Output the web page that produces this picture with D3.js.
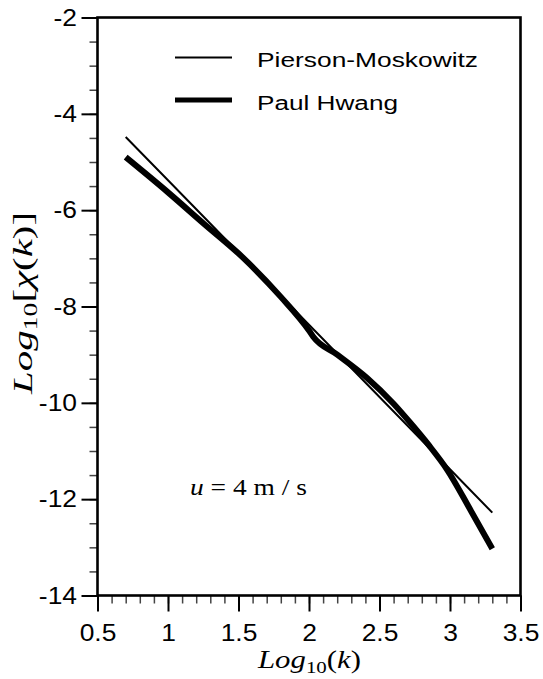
<!DOCTYPE html>
<html lang="en">
<head>
<meta charset="utf-8">
<title>Log spectrum, u = 4 m/s</title>
<script src="https://d3js.org/d3.v7.min.js"></script>
<style>
  body { margin: 0; background: #fff; }
  .tick text { font-family: "Liberation Sans", Arial, sans-serif; font-size: 24px; fill: #000; }
</style>
</head>
<body>
<script>
// values
var pmLogK  = [0.70, 1.00, 1.50, 2.00, 2.50, 3.00, 3.30];
var pmVal   = [-4.48, -5.38, -6.88, -8.38, -9.88, -11.38, -12.28];

var hwLogK  = [0.70, 1.00, 1.25, 1.53, 1.80, 2.00, 2.03, 2.20, 2.41, 2.60, 2.72, 2.85, 2.98, 3.15, 3.30];
var hwVal   = [-4.90, -5.63, -6.27, -6.98, -7.80, -8.50, -8.63, -9.00, -9.48, -10.02, -10.42, -10.88, -11.39, -12.25, -13.03];

var xTicks = [0.5, 1, 1.5, 2, 2.5, 3, 3.5];
var yTicks = [-14, -12, -10, -8, -6, -4, -2];
var seriesNames = ["Pierson-Moskowitz", "Paul Hwang"];

var W = 543, H = 679;
var pLeft = 97.5, pTop = 17.5, pRight = 520.5, pBottom = 595.5;
var stretch = 1.1;

var svg = d3.select("body").append("svg")
    .attr("width", W).attr("height", H);

var x = d3.scaleLinear().domain([0.5, 3.5]).range([pLeft, pRight]);
var y = d3.scaleLinear().domain([-14, -2]).range([pBottom, pTop]);

// minor ticks
var xMinor = d3.range(5, 36).map(function(d){ return d / 10; });
var yMinor = d3.range(-28, -3).map(function(d){ return d / 2; });

svg.append("g")
    .attr("transform", "translate(0," + pBottom + ")")
    .call(d3.axisBottom(x).tickValues(xMinor).tickSize(8).tickFormat(""))
    .call(function(g){ g.select(".domain").remove(); g.selectAll("line").attr("stroke", "#444").attr("stroke-width", 1.5); });

svg.append("g")
    .attr("transform", "translate(" + pLeft + ",0)")
    .call(d3.axisLeft(y).tickValues(yMinor).tickSize(8).tickFormat(""))
    .call(function(g){ g.select(".domain").remove(); g.selectAll("line").attr("stroke", "#444").attr("stroke-width", 1.5); });

// major ticks + labels (plain hyphen for minus, as in the figure)
var xAxis = svg.append("g")
    .attr("transform", "translate(0," + pBottom + ")")
    .call(d3.axisBottom(x).tickValues(xTicks).tickSize(16).tickPadding(12).tickFormat(String));
xAxis.select(".domain").remove();
xAxis.selectAll("line").attr("stroke", "#000").attr("stroke-width", 2);

var yAxis = svg.append("g")
    .attr("transform", "translate(" + pLeft + ",0)")
    .call(d3.axisLeft(y).tickValues(yTicks).tickSize(16).tickPadding(4.5).tickFormat(String));
yAxis.select(".domain").remove();
yAxis.selectAll("line").attr("stroke", "#000").attr("stroke-width", 2);

svg.selectAll(".tick text").each(function(){
  var t = this.getComputedTextLength();
  if (t > 0) {
    this.setAttribute("textLength", t * stretch);
    this.setAttribute("lengthAdjust", "spacingAndGlyphs");
  }
});

// frame
svg.append("rect")
    .attr("x", pLeft).attr("y", pTop)
    .attr("width", pRight - pLeft).attr("height", pBottom - pTop)
    .attr("fill", "none").attr("stroke", "#000").attr("stroke-width", 2.6);

var line = d3.line()
    .x(function(d){ return x(d[0]); })
    .y(function(d){ return y(d[1]); });

svg.append("path")
    .datum(d3.zip(hwLogK, hwVal))
    .attr("d", line.curve(d3.curveMonotoneX))
    .attr("fill", "none").attr("stroke", "#000")
    .attr("stroke-width", 6).attr("stroke-linejoin", "round").attr("stroke-linecap", "butt");

svg.append("path")
    .datum(d3.zip(pmLogK, pmVal))
    .attr("d", line.curve(d3.curveLinear))
    .attr("fill", "none").attr("stroke", "#000")
    .attr("stroke-width", 2);

// legend
var legend = svg.append("g");
var legY = [57.5, 100];
var legTextY = [67, 109.5];
var legLen = [221, 141];
var legW = [2, 5];
seriesNames.forEach(function(name, i){
  legend.append("line")
      .attr("x1", 175).attr("x2", 232)
      .attr("y1", legY[i]).attr("y2", legY[i])
      .attr("stroke", "#000").attr("stroke-width", legW[i]);
  legend.append("text")
      .attr("x", 257).attr("y", legTextY[i])
      .attr("font-family", "Liberation Sans, Arial, sans-serif")
      .attr("font-size", 20)
      .attr("textLength", legLen[i])
      .attr("lengthAdjust", "spacingAndGlyphs")
      .text(name);
});

// annotation u = 4 m/s
var note = svg.append("text")
    .attr("x", 190).attr("y", 495)
    .attr("font-family", "Liberation Serif, Times New Roman, serif")
    .attr("font-size", 24)
    .attr("textLength", 117)
    .attr("lengthAdjust", "spacingAndGlyphs");
note.append("tspan").attr("font-style", "italic").text("u");
note.append("tspan").text(" = 4 m / s");

// axis titles
function titleText(g, inner) {
  g.append("tspan").attr("font-style", "italic").text("Log");
  g.append("tspan").attr("font-size", "0.68em").attr("dy", "0.28em").text("10");
  g.append("tspan").attr("dy", "-0.19em").text(inner[0]);
  for (var i = 1; i < inner.length; i++) {
    g.append("tspan").attr("font-style", inner[i][1] ? "italic" : "normal").text(inner[i][0]);
  }
}

var xt = svg.append("text")
    .attr("x", 258).attr("y", 668)
    .attr("font-family", "Liberation Serif, Times New Roman, serif")
    .attr("font-size", 26)
    .attr("textLength", 103)
    .attr("lengthAdjust", "spacingAndGlyphs");
titleText(xt, ["(", ["k", true], [")", false]]);

var yt = svg.append("text")
    .attr("transform", "rotate(-90)")
    .attr("x", -394).attr("y", 32)
    .attr("font-family", "Liberation Serif, Times New Roman, serif")
    .attr("font-size", 27)
    .attr("textLength", 182)
    .attr("lengthAdjust", "spacingAndGlyphs");
titleText(yt, ["[", ["\u03C7", true], ["(", false], ["k", true], [")", false], ["]", false]]);
</script>
</body>
</html>
